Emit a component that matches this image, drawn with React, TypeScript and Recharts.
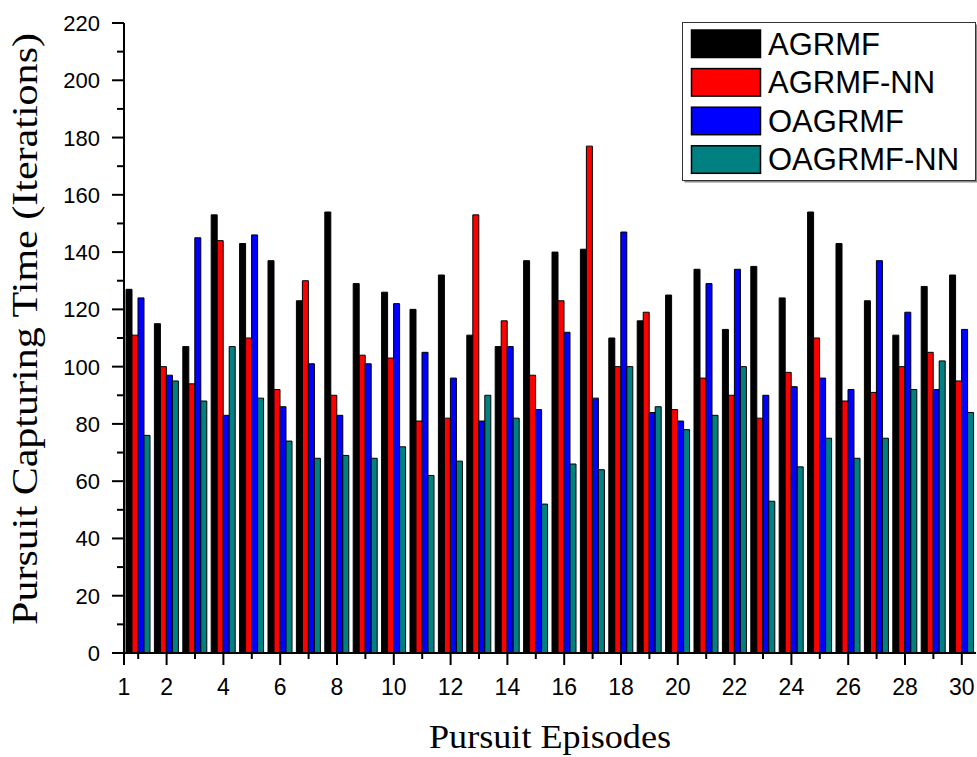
import React from 'react';
import { BarChart, Bar, XAxis, YAxis, Legend } from 'recharts';

const episodes = [1, 2, 3, 4, 5, 6, 7, 8, 9, 10, 11, 12, 13, 14, 15, 16, 17, 18, 19, 20, 21, 22, 23, 24, 25, 26, 27, 28, 29, 30];
const majorTickEpisodes = [2, 4, 6, 8, 10, 12, 14, 16, 18, 20, 22, 24, 26, 28, 30];
const axisStartLabel = '1';

const agrmf = [127, 115, 107, 153, 143, 137, 123, 154, 129, 126, 120, 132, 111, 107, 137, 140, 141, 110, 116, 125, 134, 113, 135, 124, 154, 143, 123, 111, 128, 132];
const agrmfNN = [111, 100, 94, 144, 110, 92, 130, 90, 104, 103, 81, 82, 153, 116, 97, 123, 177, 100, 119, 85, 96, 90, 82, 98, 110, 88, 91, 100, 105, 95];
const oagrmf = [124, 97, 145, 83, 146, 86, 101, 83, 101, 122, 105, 96, 81, 107, 85, 112, 89, 147, 84, 81, 129, 134, 90, 93, 96, 92, 137, 119, 92, 113];
const oagrmfNN = [76, 95, 88, 107, 89, 74, 68, 69, 68, 72, 62, 67, 90, 82, 52, 66, 64, 100, 86, 78, 83, 100, 53, 65, 75, 68, 75, 92, 102, 84];

const yMajorTicks = [0, 20, 40, 60, 80, 100, 120, 140, 160, 180, 200, 220];
const yMinorTicks = [10, 30, 50, 70, 90, 110, 130, 150, 170, 190, 210];

const seriesNames = ['AGRMF', 'AGRMF-NN', 'OAGRMF', 'OAGRMF-NN'];
const seriesKeys = ['agrmf', 'agrmfNN', 'oagrmf', 'oagrmfNN'];
const seriesColors = ['#000000', '#FF0000', '#0000FF', '#008080'];

const data = episodes.map((ep, i) => ({
  ep,
  agrmf: agrmf[i],
  agrmfNN: agrmfNN[i],
  oagrmf: oagrmf[i],
  oagrmfNN: oagrmfNN[i],
}));

const W = 977;
const H = 757;
const M_LEFT = 124;
const M_RIGHT = 1;
const M_TOP = 23;
const X_AXIS_H = 104;
const PLOT_W = W - M_LEFT - M_RIGHT;
const BAND = PLOT_W / episodes.length;

const SANS = '"Liberation Sans", Arial, Helvetica, sans-serif';
const SERIF = '"Liberation Serif", "Times New Roman", Times, serif';

const XTick = (props: any) => {
  const { x, y, payload } = props;
  const v = Number(payload.value);
  const isMajor = majorTickEpisodes.includes(v);
  return (
    <g>
      <line x1={x} x2={x} y1={y} y2={y + (isMajor ? 12 : 6)} stroke="#000" strokeWidth={2} />
      {isMajor && (
        <text x={x} y={y + 42} textAnchor="middle" fontFamily={SANS} fontSize={23} fill="#000">
          {String(v)}
        </text>
      )}
      {v === episodes[0] && (
        <g>
          <line x1={x - BAND / 2} x2={x - BAND / 2} y1={y} y2={y + 12} stroke="#000" strokeWidth={2} />
          <text x={x - BAND / 2} y={y + 42} textAnchor="middle" fontFamily={SANS} fontSize={23} fill="#000">
            {axisStartLabel}
          </text>
        </g>
      )}
    </g>
  );
};

const YTick = (props: any) => {
  const { x, y, payload } = props;
  const v = Number(payload.value);
  const isMajor = yMajorTicks.includes(v);
  return (
    <g>
      <line x1={x - (isMajor ? 12 : 7)} x2={x} y1={y} y2={y} stroke="#000" strokeWidth={2} />
      {isMajor && (
        <text x={x - 24} y={y + 8} textAnchor="end" fontFamily={SANS} fontSize={22} fill="#000">
          {String(v)}
        </text>
      )}
    </g>
  );
};

const LegendBox = () => {
  const w = 293;
  const h = 158;
  return (
    <svg width={w + 3} height={h + 3} style={{ display: 'block', overflow: 'visible' }}>
      <rect x={2.5} y={2.5} width={w} height={h} fill="#888" />
      <rect x={0.5} y={0.5} width={w} height={h} fill="#fff" stroke="#333" strokeWidth={1} />
      {seriesNames.map((name, i) => {
        const top = 8 + i * 38.6;
        return (
          <g key={name}>
            <rect x={9.5} y={top} width={69} height={27.5} fill={seriesColors[i]} stroke="#000" strokeWidth={1.5} />
            <text x={86} y={top + 24.5} fontFamily={SANS} fontSize={31} fill="#000">
              {name}
            </text>
          </g>
        );
      })}
    </svg>
  );
};

export default function App() {
  return (
    <div style={{ position: 'fixed', left: 0, top: 0, width: W, height: H, background: '#fff' }}>
      <BarChart
        width={W}
        height={H}
        data={data}
        margin={{ top: M_TOP, right: M_RIGHT, bottom: 0, left: 0 }}
        barGap={0}
        barCategoryGap={0}
      >
        <XAxis
          dataKey="ep"
          type="category"
          height={X_AXIS_H}
          interval={0}
          tickSize={0}
          tickMargin={0}
          tickLine={false}
          axisLine={{ stroke: '#000', strokeWidth: 2 }}
          tick={<XTick />}
          label={{
            content: (p: any) => {
              const vb = p.viewBox || { x: M_LEFT, y: H - X_AXIS_H, width: PLOT_W, height: X_AXIS_H };
              return (
                <text
                  x={vb.x + vb.width / 2}
                  y={vb.y + 95}
                  textAnchor="middle"
                  fontFamily={SERIF}
                  fontSize={33}
                  textLength={242}
                  lengthAdjust="spacingAndGlyphs"
                  fill="#000"
                >
                  Pursuit Episodes
                </text>
              );
            },
          }}
        />
        <XAxis
          xAxisId="top"
          dataKey="ep"
          orientation="top"
          height={0}
          tick={false}
          tickLine={false}
          axisLine={{ stroke: '#000', strokeWidth: 2 }}
        />
        <YAxis
          type="number"
          domain={[0, 220]}
          ticks={[...yMajorTicks, ...yMinorTicks].sort((a, b) => a - b)}
          interval={0}
          width={M_LEFT}
          tickSize={0}
          tickMargin={0}
          tickLine={false}
          axisLine={{ stroke: '#000', strokeWidth: 2 }}
          tick={<YTick />}
          label={{
            content: (p: any) => {
              const vb = p.viewBox || { x: 0, y: M_TOP, width: M_LEFT, height: 630 };
              const cx = 37;
              const cy = vb.y + vb.height / 2 - 9;
              return (
                <text
                  x={cx}
                  y={cy}
                  transform={`rotate(-90, ${cx}, ${cy})`}
                  textAnchor="middle"
                  fontFamily={SERIF}
                  fontSize={35}
                  textLength={592}
                  lengthAdjust="spacingAndGlyphs"
                  fill="#000"
                >
                  Pursuit Capturing Time (Iterations)
                </text>
              );
            },
          }}
        />
        <YAxis
          yAxisId="right"
          orientation="right"
          type="number"
          domain={[0, 220]}
          width={0}
          tick={false}
          tickLine={false}
          axisLine={{ stroke: '#000', strokeWidth: 2 }}
        />
        <Legend
          layout="horizontal"
          align="center"
          verticalAlign="middle"
          wrapperStyle={{ left: 682, top: 22, width: 297, height: 162 }}
          content={() => <LegendBox />}
        />
        {seriesKeys.map((k, i) => (
          <Bar
            key={k}
            dataKey={k}
            name={seriesNames[i]}
            fill={seriesColors[i]}
            stroke="#000"
            strokeWidth={1}
            barSize={6}
            isAnimationActive={false}
          />
        ))}
      </BarChart>
    </div>
  );
}
